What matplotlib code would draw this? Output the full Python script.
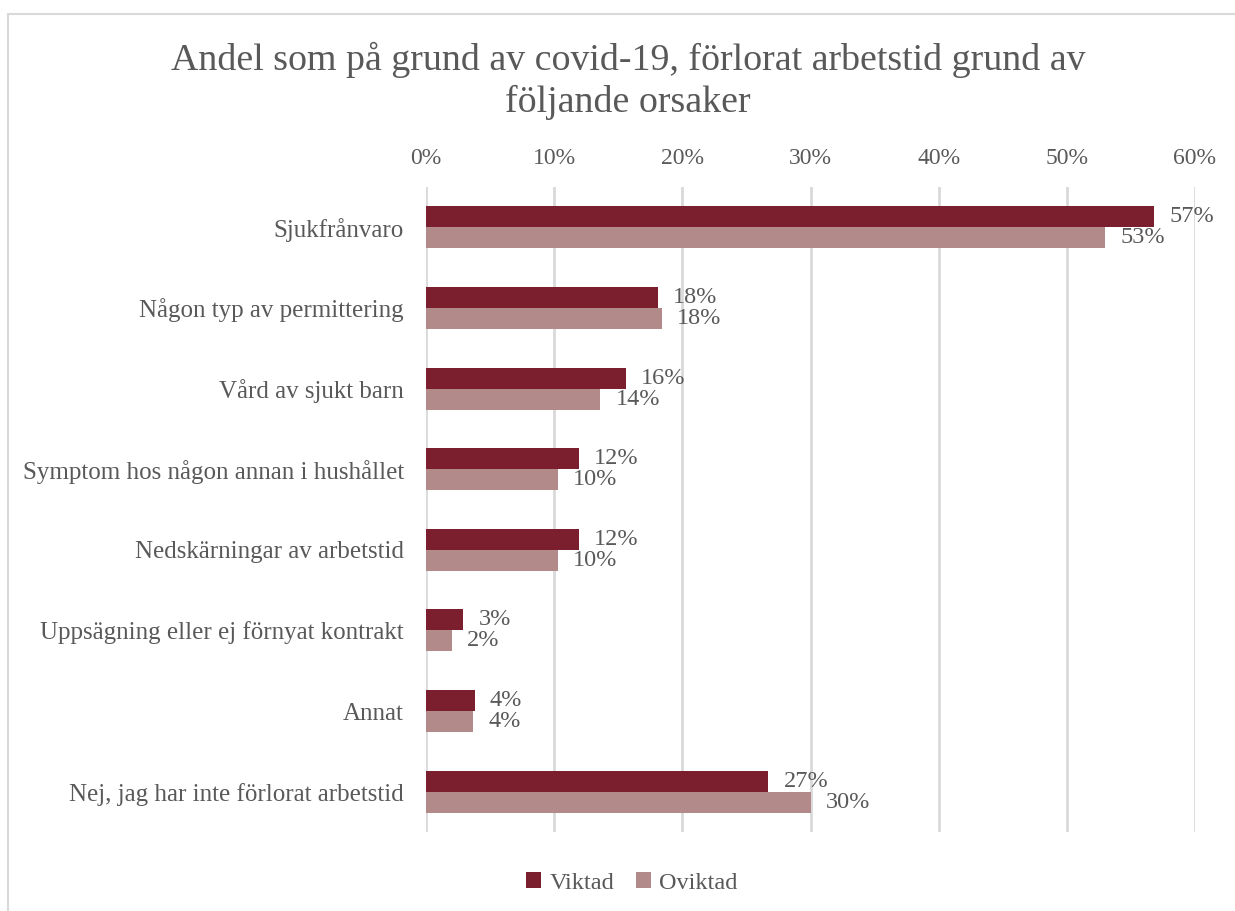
import matplotlib.pyplot as plt
import numpy as np
from matplotlib.patches import Rectangle

# Data
categories = ['Sjukfrånvaro', 'Någon typ av permittering', 'Vård av sjukt barn',
              'Symptom hos någon annan i hushållet', 'Nedskärningar av arbetstid',
              'Uppsägning eller ej förnyat kontrakt', 'Annat',
              'Nej, jag har inte förlorat arbetstid']
viktad = [56.8, 18.1, 15.6, 11.9, 11.9, 2.9, 3.8, 26.7]
oviktad = [53.0, 18.4, 13.6, 10.3, 10.3, 2.0, 3.7, 30.0]
series_names = ['Viktad', 'Oviktad']
xticks = [0, 10, 20, 30, 40, 50, 60]

c_vikt = '#7B1F2E'
c_ovikt = '#B38A8A'
txt = '#595959'
grid = '#D9D9D9'

plt.rcParams['font.family'] = ['Liberation Serif', 'DejaVu Serif']

fig = plt.figure(figsize=(12.35, 9.11), dpi=100)
fig.patches.append(Rectangle((8 / 1235, -0.01), 1.1, 1 - 14 / 911 + 0.01,
                             transform=fig.transFigure, fill=False,
                             edgecolor=grid, linewidth=1.5))
ax = fig.add_axes([426 / 1235, 1 - 832 / 911, (1195 - 426) / 1235, (832 - 187) / 911])

y = np.arange(len(categories))
h = 0.26
b1 = ax.barh(y - h / 2, viktad, height=h, color=c_vikt, label=series_names[0])
b2 = ax.barh(y + h / 2, oviktad, height=h, color=c_ovikt, label=series_names[1])

for bars, vals in [(b1, viktad), (b2, oviktad)]:
    for bar, v in zip(bars, vals):
        ax.annotate(f'{round(v)}%', (bar.get_width(), bar.get_y() + bar.get_height() / 2),
                    xytext=(11, 0), textcoords='offset points', va='center', ha='left',
                    fontsize=17.5, color=txt)

ax.set_xlim(0, 60)
ax.set_ylim(len(categories) - 0.5, -0.5)
ax.set_yticks(y)
ax.set_yticklabels(categories, fontsize=18, color=txt)
ax.set_xticks(xticks)
ax.set_xticklabels([f'{t}%' for t in xticks], fontsize=17, color=txt)
ax.xaxis.tick_top()
ax.tick_params(axis='both', length=0)
ax.tick_params(axis='x', pad=13)
ax.tick_params(axis='y', pad=16)
ax.grid(axis='x', color=grid, linewidth=2)
ax.set_axisbelow(True)
for s in ax.spines.values():
    s.set_visible(False)

fig.text(628 / 1235, 1 - 81 / 911, 'Andel som på grund av covid-19, förlorat arbetstid grund av\nföljande orsaker',
         ha='center', va='center', fontsize=27.3, color=txt, linespacing=1.28)

fig.legend(handles=[b1, b2], labels=series_names, loc='center',
           bbox_to_anchor=(632 / 1235, 1 - 883 / 911), ncol=2, frameon=False,
           fontsize=17.5, labelcolor=txt, handlelength=0.6, handleheight=0.6,
           handletextpad=0.35, columnspacing=0.9)

fig.savefig('out.png', dpi=100)
